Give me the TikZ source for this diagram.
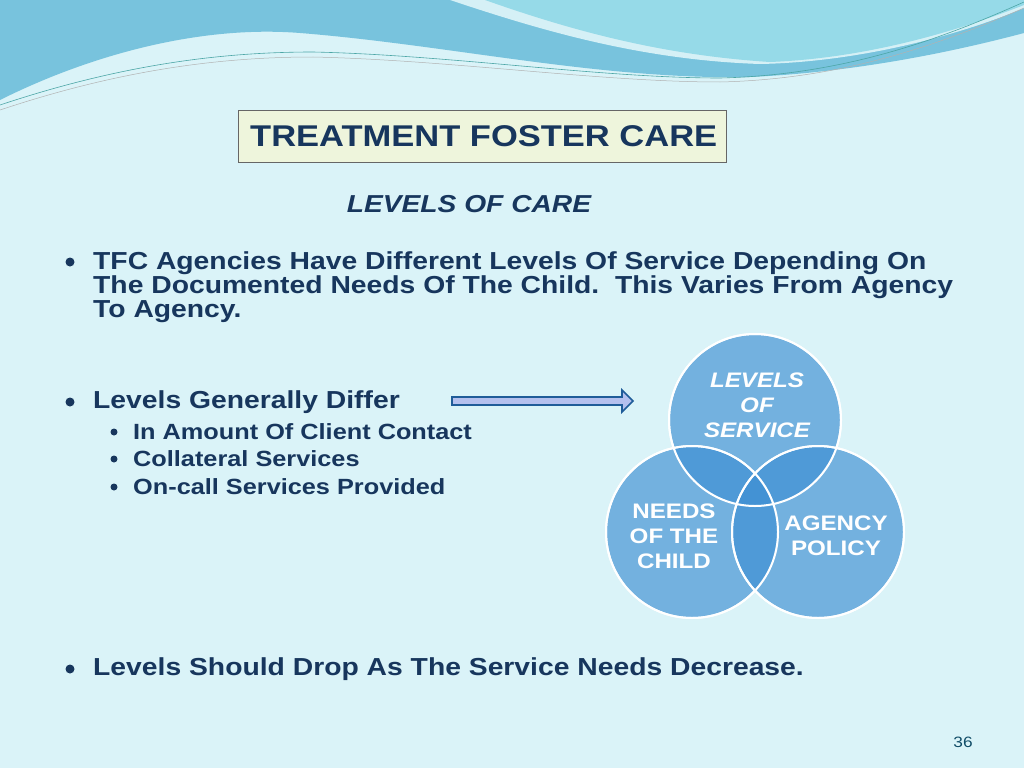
\documentclass[tikz,border=0pt]{standalone}
\usepackage{fontspec}
\setmainfont[FakeStretch=1.15]{Liberation Sans}
\definecolor{bg}{HTML}{DAF3F8}
\definecolor{wave}{HTML}{78C3DD}
\definecolor{wavelt}{HTML}{96DAE8}
\definecolor{navy}{HTML}{17365D}
\definecolor{circ}{HTML}{3D8FD3}
\definecolor{tbox}{HTML}{EEF5DC}
\definecolor{arr}{HTML}{1F5C99}
\definecolor{arrf}{HTML}{B4C0EE}
\begin{document}
\begin{tikzpicture}[x=1pt,y=-1pt,
  txt/.style={font=\bfseries\fontsize{24.6}{24}\selectfont,text=navy,anchor=west,inner sep=0},
  sub/.style={font=\bfseries\fontsize{22}{20}\selectfont,text=navy,anchor=west,inner sep=0},
  dot/.style={fill=navy,circle,inner sep=0,minimum size=#1},
  ctext/.style={text=white,align=center},
  circle3/.style={circle,minimum size=172pt,fill=circ,fill opacity=0.65,draw=white,line width=2pt,draw opacity=1}]
\fill[bg] (0,0) rectangle (1024,768);
\useasboundingbox (0,0) rectangle (1024,768);
% waves
\fill[wave] (0,0) -- (0,100) .. controls (90,55) and (200,25) .. (300,33) .. controls (450,45) and (600,80) .. (750,77) .. controls (860,72) and (960,50) .. (1024,33) -- (1024,0) -- cycle;
\fill[white!60!wavelt] (450,0) .. controls (540,30) and (640,60) .. (760,64) .. controls (860,62) and (960,35) .. (1024,8) -- (1024,0) -- cycle;
\fill[wavelt] (485,0) .. controls (570,30) and (660,55) .. (770,62) .. controls (870,58) and (960,30) .. (1024,5) -- (1024,0) -- cycle;
\draw[teal!70,line width=0.6pt] (0,105) .. controls (120,65) and (220,52) .. (313,52) .. controls (450,55) and (600,78) .. (720,78) .. controls (850,75) and (950,35) .. (1024,2);
\draw[gray!60,line width=0.5pt] (0,110) .. controls (120,70) and (220,57) .. (313,57) .. controls (450,60) and (600,82) .. (720,82) .. controls (850,79) and (950,40) .. (1024,8);
% title
\node[draw=gray!80!black,fill=tbox,minimum width=488pt,minimum height=52pt,inner sep=0,line width=0.8pt] (title) at (482,136) {};
\node[font=\bfseries\fontsize{30}{30}\selectfont,text=navy,anchor=west,inner sep=0] (titlet) at (250,136) {TREATMENT FOSTER CARE};
\node[font=\bfseries\itshape\fontsize{24.5}{24}\selectfont,text=navy,inner sep=0] (sub) at (469,204) {LEVELS OF CARE};
% bullets
\node[dot=9pt] (b1d) at (70,262) {};
\node[txt,align=left,anchor=north west] (b1) at (93,251) {TFC Agencies Have Different Levels Of Service Depending On\\The Documented Needs Of The Child.\ \ This Varies From Agency\\To Agency.};
\node[dot=9pt] (b2d) at (70,402) {};
\node[txt] (b2) at (93,402) {Levels Generally Differ};
\node[dot=7pt] (s1d) at (114,432) {};
\node[sub] (s1) at (133,432) {In Amount Of Client Contact};
\node[dot=7pt] (s2d) at (114,459) {};
\node[sub] (s2) at (133,459) {Collateral Services};
\node[dot=7pt] (s3d) at (114,487) {};
\node[sub] (s3) at (133,487) {On-call Services Provided};
\node[dot=9pt] (b3d) at (70,669) {};
\node[txt] (b3) at (93,669) {Levels Should Drop As The Service Needs Decrease.};
% arrow
\draw[arr,line width=1.6pt,fill=arrf] (452,397) -- (622,397) -- (622,390) -- (633,401) -- (622,412) -- (622,405) -- (452,405) -- cycle;
% circles
\node[circle3] (c1) at (755,420) {};
\node[circle3] (c2) at (692,532) {};
\node[circle3] (c3) at (818,532) {};
\draw[white,line width=2pt] (c1) circle (86pt) (c2) circle (86pt) (c3) circle (86pt);
\node[ctext,font=\bfseries\itshape\fontsize{21}{25}\selectfont] (t1) at (757,405) {LEVELS\\OF\\SERVICE};
\node[ctext,font=\bfseries\fontsize{21}{25}\selectfont] (t2) at (674,536) {NEEDS\\OF THE\\CHILD};
\node[ctext,font=\bfseries\fontsize{21}{25}\selectfont] (t3) at (836,536) {AGENCY\\POLICY};
\node[font=\fontsize{15}{15}\selectfont,text=navy!70!teal] (pg) at (963,742) {36};
\end{tikzpicture}
\end{document}
